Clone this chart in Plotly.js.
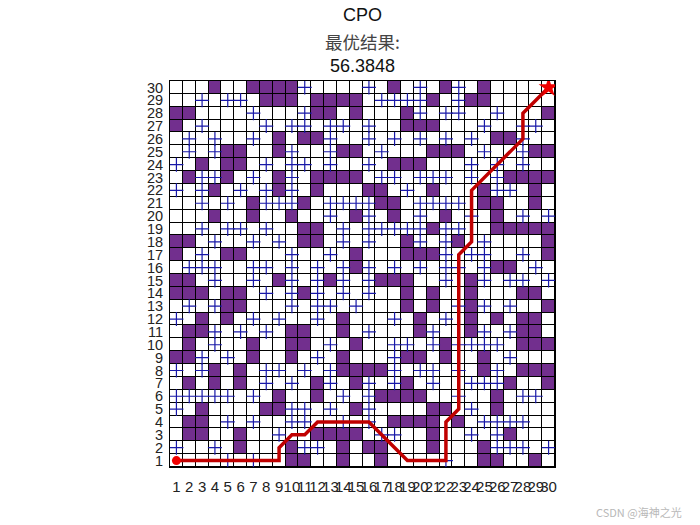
<!DOCTYPE html>
<html>
<head>
<meta charset="utf-8">
<script src="https://cdn.plot.ly/plotly-3.0.1.min.js"></script>
<style>html,body{margin:0;padding:0;background:#fff;}#chart{width:700px;height:525px;}</style>
</head>
<body>
<div id="chart"></div>
<script>
// Map rows from row 30 (top) down to row 1; '#' = obstacle, '+' = marker, '.' = free
const mapRows = [
  "...#..#### +....+.#.+ .#+.#.....", // 30
  "..+.++.### .####.++++ #.+##.....", // 29
  "##....+... +##.#...#+ .++..+...#", // 28
  "#.+....+.+ +.++.+..## #...+..++.", // 27
  ".+.+..+.#. ##+..+.+.+ .+.+.##+..", // 26
  ".+.+##..#+ ..+##.+... ###.+..+##", // 25
  "+.#.##.+.+ +.+..+.### ...+.+.+..", // 24
  ".#++#.+.#+ .####.++.+ ++.+.+####", // 23
  "+.+#.+.+#+ .#...##.+. #...#++.#.", // 22
  "..+.+.#+++ #.++++##.+ +++.##..#.", // 21
  "...#..#..# ..+.#+.#.+ .#.+.#.+.+", // 20
  "..+.++.+.. ##.+.+++++ #++..#####", // 19
  "##.+..+.+. ##.+.+..#+ .+#.+....#", // 18
  "#.+.##...+ ..+.#...## #+.++..+.#", // 17
  ".+++..++.+ .+.+#+.+.+ .++.+##.+.", // 16
  "##.+..+.#+ .+#+.+###. .+.#+.++.+", // 15
  "###.##.+.+ #+.+.+..#. #..#...##.", // 14
  ".+.+##...+ .++.+...#. #.+#+.+..#", // 13
  "+.#.#.+.+. .+.#...+.# .+.#.#.##.", // 12
  ".##+.+.+.# #..#.+...# +..#+.+##.", // 11
  ".#.+..#..# #.+.#..++. +#++++.###", // 10
  "##+.+.#..# .+.#...+## .#..#.+...", // 9
  "+.+#.#.++. +.+####+.+ +.+.#+.###", // 8
  ".#.#.#.+.+ .#+.#+.+#. +..+++#..#", // 7
  "+++++.+.#. .#.+.+#### ..+..#.++.", // 6
  "+.#....##+ +.+.#+.... ##.+.#....", // 5
  ".##.+.+..+ +..+.+.### #.#.++++..", // 4
  ".##..#..+. .####.++.. #..+.+#...", // 3
  "+..+.#...# ++.#.##... #...#+++.+", // 2
  "....+.+..# #..#..#... .+..##..#."  // 1
];
const pathX = [1, 9, 9, 10, 11, 12, 16, 19, 22, 22, 23, 23, 24, 24, 28, 28, 30];
const pathY = [1, 1, 2, 3, 3, 4, 4, 1, 1, 4, 5, 17, 18, 22, 26, 28, 30];
const startPoint = [1, 1];
const goalPoint = [30, 30];
const tickLabels = Array.from({length: 30}, (_, i) => String(i + 1));
const titleLines = ["CPO", "最优结果:", "56.3848"];
const watermark = "CSDN @海神之光";

const N = 30;
const z = [];
const plusX = [], plusY = [];
for (let r = 1; r <= N; r++) {
  const s = mapRows[N - r].replace(/ /g, "");
  const row = [];
  for (let c = 1; c <= N; c++) {
    const ch = s[c - 1];
    row.push(ch === "#" ? 1 : 0);
    if (ch === "+") { plusX.push(c); plusY.push(r); }
  }
  z.push(row);
}
const idx = Array.from({length: N}, (_, i) => i + 1);

const traces = [
  {type: "heatmap", x: idx, y: idx, z: z, zmin: 0, zmax: 1,
   colorscale: [[0, "#ffffff"], [1, "#722f8e"]], showscale: false,
   xgap: 1, ygap: 1, hoverinfo: "skip"},
  {type: "scatter", mode: "markers", x: plusX, y: plusY,
   marker: {symbol: "cross-thin-open", size: 10, color: "#1818a8", line: {color: "#1818a8", width: 1.2}},
   hoverinfo: "skip"},
  {type: "scatter", mode: "lines", x: pathX, y: pathY,
   line: {color: "#c00000", width: 3.5}, hoverinfo: "skip"},
  {type: "scatter", mode: "markers", x: [startPoint[0]], y: [startPoint[1]],
   marker: {symbol: "circle", size: 9, color: "#f00000"}, hoverinfo: "skip"},
  {type: "scatter", mode: "markers", x: [goalPoint[0]], y: [goalPoint[1]],
   marker: {symbol: "star", size: 15, color: "#f00000"}, hoverinfo: "skip"}
];

const axisCommon = {
  range: [0.5, 30.5], tickvals: idx, ticktext: tickLabels, ticks: "",
  showgrid: false, zeroline: false, showline: true, mirror: true,
  linecolor: "#000", linewidth: 1, fixedrange: true, tickangle: 0,
  tickfont: {family: "Liberation Sans, Arial, sans-serif", size: 15, color: "#222"}
};

const plotH = 386.8;
const yPaper = px => (467.4 - px) / plotH;
const layout = {
  width: 700, height: 525,
  margin: {l: 169.6, r: 144.5, t: 80.6, b: 57.6, pad: 0},
  paper_bgcolor: "#ffffff", plot_bgcolor: "#000000",
  showlegend: false,
  xaxis: Object.assign({}, axisCommon, {ticklabelstandoff: 6}),
  yaxis: Object.assign({}, axisCommon, {ticklabelstandoff: 3,
    tickfont: {family: "Liberation Sans, Arial, sans-serif", size: 14.5, color: "#222"}}),
  annotations: [
    {text: titleLines[0], xref: "paper", yref: "paper", x: 0.5, y: yPaper(14), showarrow: false,
     xanchor: "center", yanchor: "middle", font: {family: "Liberation Sans, Arial, sans-serif", size: 18, color: "#111"}},
    {text: titleLines[1], xref: "paper", yref: "paper", x: 0.5, y: yPaper(41), showarrow: false,
     xanchor: "center", yanchor: "middle", font: {family: "Noto Sans CJK SC, sans-serif", size: 17.5, color: "#444"}},
    {text: titleLines[2], xref: "paper", yref: "paper", x: 0.5, y: yPaper(66), showarrow: false,
     xanchor: "center", yanchor: "middle", font: {family: "Liberation Sans, Arial, sans-serif", size: 18, color: "#111"}},
    {text: watermark, xref: "paper", yref: "paper", x: (640 - 169.6) / 385.9, y: yPaper(512), showarrow: false,
     xanchor: "center", yanchor: "middle", font: {family: "Noto Sans CJK SC, sans-serif", size: 11, color: "#b8b8b8"}}
  ]
};

Plotly.newPlot("chart", traces, layout, {staticPlot: true, displayModeBar: false});
</script>
</body>
</html>
